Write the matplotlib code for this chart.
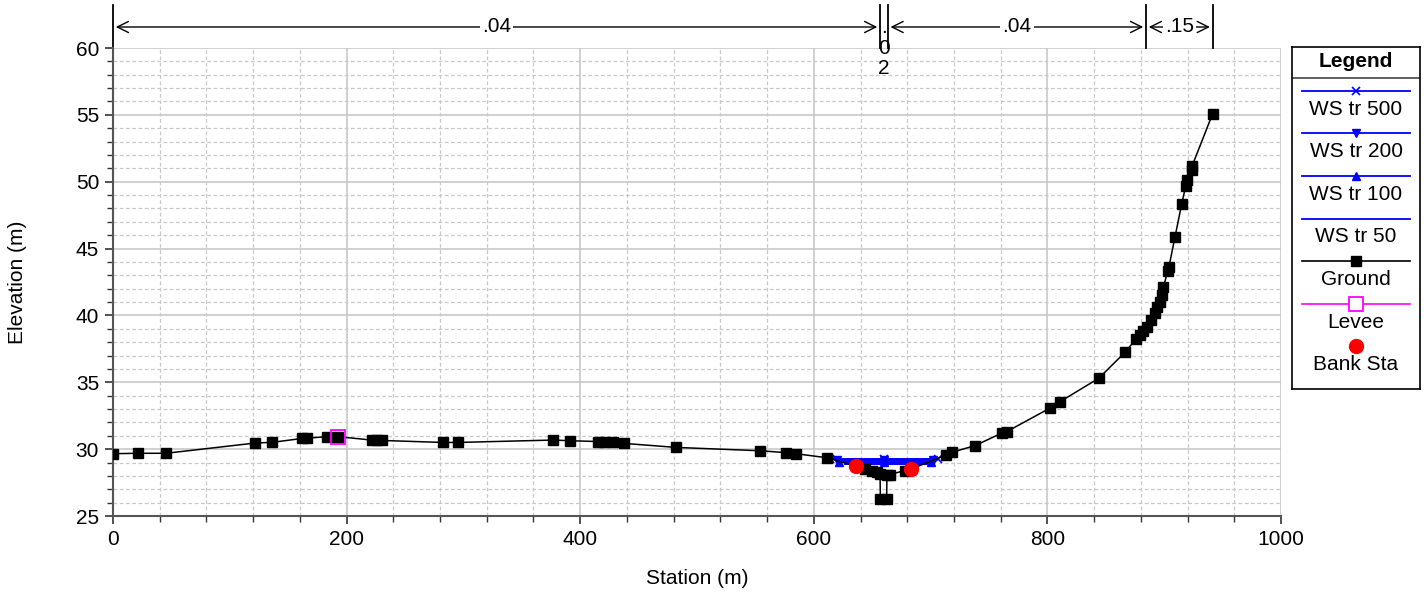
import numpy as np
import matplotlib.pyplot as plt
from matplotlib.ticker import MultipleLocator

plt.rcParams['font.family'] = ['Liberation Sans', 'DejaVu Sans']

# Ground profile (station m, elevation m)
ground_sta = [0, 21.7, 45.4, 122, 136.4, 162, 166, 182.8, 193, 221.4, 226, 230,
              282.8, 295, 377, 391, 415, 420, 428, 437.5, 482, 554, 576, 584.5,
              611, 636, 644, 650, 654, 656.7, 657, 662.4, 662.6, 665, 678, 683,
              713, 718, 738, 760.9, 765, 801.8, 810.8, 844, 866.4, 876, 879, 882,
              885, 888.3, 892, 894, 896, 898, 899.4, 903, 904, 909.2, 914.9,
              918.5, 919.5, 923.5, 924, 941.4]
ground_elev = [29.66, 29.69, 29.69, 30.46, 30.51, 30.8, 30.82, 30.93, 30.93, 30.68, 30.66, 30.65,
               30.5, 30.5, 30.68, 30.63, 30.57, 30.56, 30.52, 30.43, 30.13, 29.88, 29.74, 29.66,
               29.36, 28.72, 28.5, 28.38, 28.3, 28.15, 26.3, 26.3, 28.1, 28.1, 28.4, 28.5,
               29.55, 29.76, 30.26, 31.2, 31.3, 33.05, 33.55, 35.3, 37.24, 38.25, 38.5, 38.8,
               39.1, 39.66, 40.2, 40.6, 41.0, 41.5, 42.15, 43.3, 43.6, 45.85, 48.3,
               49.7, 50.1, 50.9, 51.2, 55.07]

levee_sta = [193]
levee_elev = [30.93]

bank_sta = [636, 683]
bank_elev = [28.72, 28.5]

# water surfaces
ws500_sta = [614, 660, 706]
ws500_elev = [29.3, 29.3, 29.3]
ws200_sta = [620, 660, 702]
ws200_elev = [29.17, 29.17, 29.17]
ws100_sta = [622, 660, 700]
ws100_elev = [29.05, 29.05, 29.05]
ws50_sta = [627, 698]
ws50_elev = [28.92, 28.92]

# Manning's n regions
n_bounds = [0, 656.7, 663.3, 884.4, 941.5]
n_values = ['.04', '.02', '.04', '.15']

W, H = 1428, 597
fig = plt.figure(figsize=(W / 100, H / 100), dpi=100)
ax = fig.add_axes([113 / W, 1 - 516 / H, 1168 / W, 468 / H])

fs = 15
ax.set_xlim(0, 1000)
ax.set_ylim(25, 60)
ax.xaxis.set_major_locator(MultipleLocator(200))
ax.xaxis.set_minor_locator(MultipleLocator(40))
ax.yaxis.set_major_locator(MultipleLocator(5))
ax.yaxis.set_minor_locator(MultipleLocator(1))
ax.grid(which='major', color='#c8c8c8', lw=1.2, ls='-')
ax.grid(which='minor', color='#c8c8c8', lw=0.9, ls=(0, (3, 2)))
ax.set_axisbelow(True)
for s in ['top', 'right']:
    ax.spines[s].set_visible(False)
for s in ['left', 'bottom']:
    ax.spines[s].set_color('#555555')
    ax.spines[s].set_linewidth(1.5)
ax.tick_params(which='major', length=6, width=1.2, color='#333333', labelsize=fs, pad=4)
ax.tick_params(which='minor', length=4, width=1.0, color='#333333')

blue = '#0000ff'
ax.plot(ws50_sta, ws50_elev, color=blue, lw=1.4, zorder=3)
ax.plot(ws100_sta, ws100_elev, color=blue, lw=1.4, marker='^', ms=6, zorder=3)
ax.plot(ws200_sta, ws200_elev, color=blue, lw=1.4, marker='v', ms=6, zorder=3)
ax.plot(ws500_sta, ws500_elev, color=blue, lw=1.4, marker='x', ms=6, mew=1.2, zorder=3)
ax.plot(ground_sta, ground_elev, color='black', lw=1.1, marker='s', ms=6.5, zorder=4)
ax.plot(levee_sta, levee_elev, ls='none', marker='s', ms=10, mfc='none', mec='#ff00ff', mew=1.3, zorder=5)
ax.plot(bank_sta, bank_elev, ls='none', marker='o', ms=10, color='red', zorder=5)

ax.set_xlabel('Station (m)', fontsize=fs)
ax.set_ylabel('Elevation (m)', fontsize=fs)
ax.xaxis.set_label_coords(0.5, -(578 - 516) / 468)
ax.xaxis.label.set_va('center')
ax.yaxis.set_label_coords(-(113 - 18) / 1168, 0.5)
ax.yaxis.label.set_va('center')

# Manning's n annotation above the plot
tr = ax.get_xaxis_transform()
y_arrow = 1 + (48 - 27) / 468
y_top = 1 + (48 - 5) / 468
for b in n_bounds:
    ax.plot([b, b], [1.0, y_top], color='black', lw=1.3, transform=tr, clip_on=False)
for i, val in enumerate(n_values):
    x0, x1 = n_bounds[i], n_bounds[i + 1]
    mid = (x0 + x1) / 2
    if x1 - x0 < 20:
        ax.text(mid, 1 + (48 - 48) / 468, '.\n0\n2', ha='center', va='center', fontsize=fs,
                linespacing=1.1, transform=tr, clip_on=False)
        continue
    ax.annotate('', xy=(x0, y_arrow), xytext=(x1, y_arrow), xycoords=tr, textcoords=tr,
                arrowprops=dict(arrowstyle='<->', color='black', lw=1.0, mutation_scale=20))
    ax.text(mid, y_arrow, val, ha='center', va='center', fontsize=fs, transform=tr,
            bbox=dict(facecolor='white', edgecolor='none', pad=1.5), clip_on=False)

# Legend box drawn in its own axes (pixel coordinates)
lg = fig.add_axes([1292 / W, 1 - 389 / H, 128 / W, 342 / H])
lg.set_xlim(1292, 1420)
lg.set_ylim(389, 47)
lg.set_xticks([])
lg.set_yticks([])
for s in lg.spines.values():
    s.set_color('black')
    s.set_linewidth(1.2)
lg.plot([1292, 1420], [77.7, 77.7], color='#444444', lw=1.2)
lg.text(1356, 61.5, 'Legend', ha='center', va='center', fontsize=fs, fontweight='bold')

leg_labels = ['WS tr 500', 'WS tr 200', 'WS tr 100', 'WS tr 50', 'Ground', 'Levee', 'Bank Sta']
leg_styles = [
    dict(color=blue, lw=1.3, marker='x', ms=6, mew=1.2),
    dict(color=blue, lw=1.3, marker='v', ms=6),
    dict(color=blue, lw=1.3, marker='^', ms=6),
    dict(color=blue, lw=1.3),
    dict(color='black', lw=1.2, marker='s', ms=6.5),
    dict(color='#ff00ff', lw=1.2, marker='s', ms=10, mfc='white', mew=1.3),
    dict(color='red', lw=0, marker='o', ms=10),
]
for i, (lab, st) in enumerate(zip(leg_labels, leg_styles)):
    y_line = 90.7 + i * 42.6
    lg.plot([1302, 1356, 1410], [y_line] * 3, markevery=[1], **st)
    lg.text(1356, y_line + 18.5, lab, ha='center', va='center', fontsize=fs)

fig.savefig('out.png', dpi=100)
